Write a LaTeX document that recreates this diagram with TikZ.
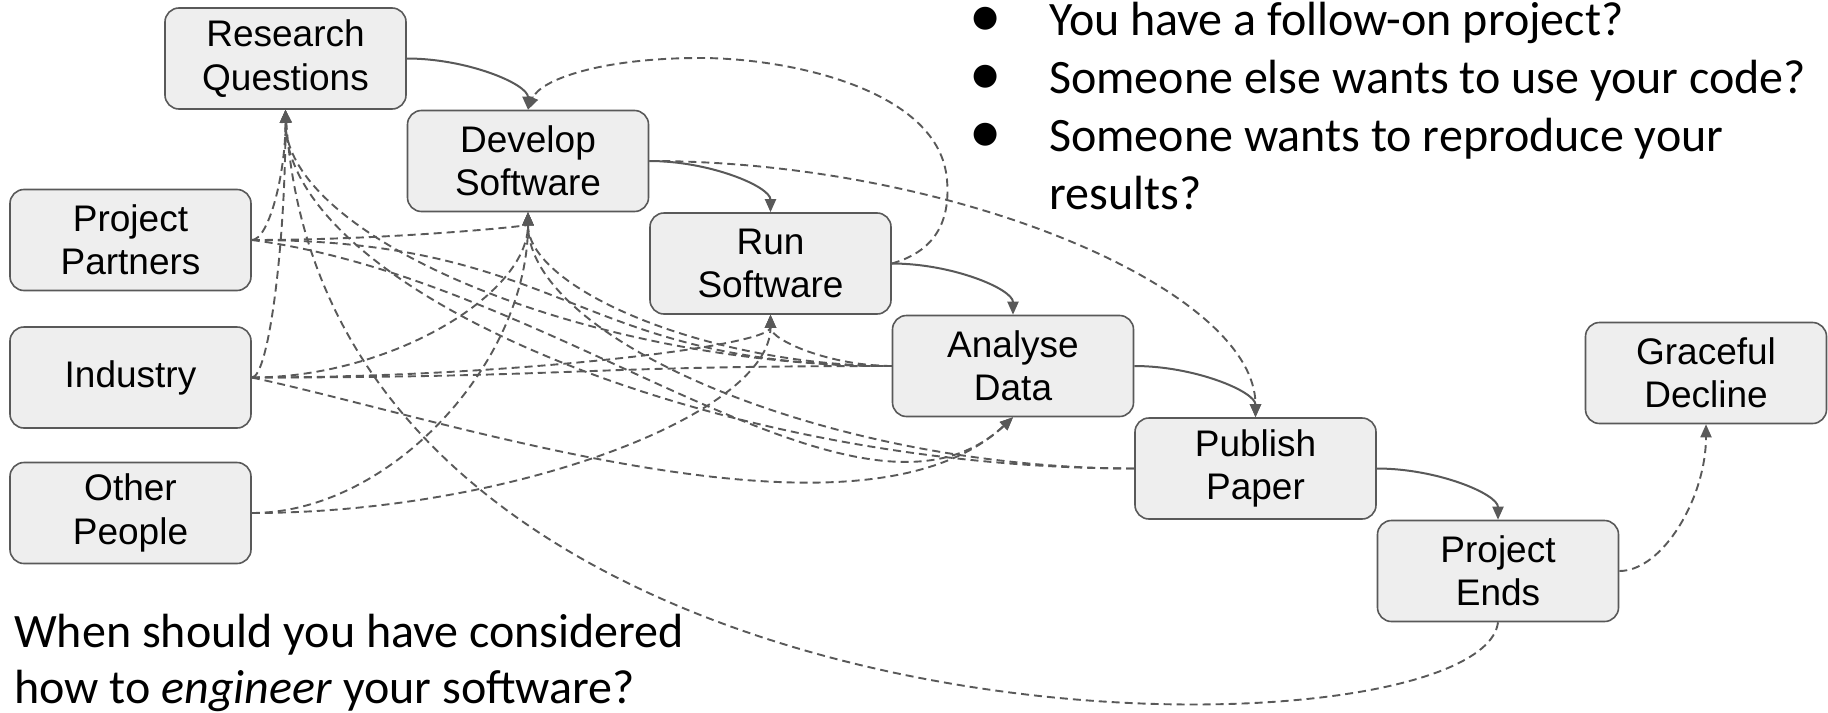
\documentclass[tikz,border=0pt]{standalone}
\usepackage{fontspec}
\setmainfont{Liberation Sans}
\newfontfamily\carlito{Carlito}
\newfontfamily\dejavu{DejaVu Sans}
\usetikzlibrary{arrows.meta,calc}
\definecolor{boxfill}{HTML}{EEEEEE}
\definecolor{edgecol}{HTML}{595959}
\begin{document}
\begin{tikzpicture}[x=1pt,y=-1pt,
  box/.style={draw=edgecol, line width=1.6pt, fill=boxfill, rounded corners=14pt,
    minimum width=241pt, minimum height=101pt, inner sep=0pt, align=center,
    font=\fontsize{37}{43.5}\selectfont},
  flow/.style={draw=edgecol, line width=2pt, -{Triangle[length=13pt,width=11pt]}},
  dep/.style={draw=edgecol, line width=1.9pt, dash pattern=on 8pt off 5pt,
    -{Triangle[length=13pt,width=11pt]}},
  link/.style={draw=edgecol, line width=1.9pt, dash pattern=on 8pt off 5pt},
  ctwo/.style={to path={let \p1=(\tikztostart), \p2=(\tikztotarget) in
    .. controls ({(\x1+\x2)/2},\y1) and (\x2,{(\y1+\y2)/2}) .. (\tikztotarget)}},
  cthree/.style={to path={let \p1=(\tikztostart), \p2=(\tikztotarget) in
    .. controls ({(\x1+\x2)/2},\y1) and ({(\x1+\x2)/2},\y2) .. (\tikztotarget)}},
  txt/.style={anchor=base west, inner sep=0pt, font=\carlito\fontsize{48}{57}\selectfont},
  dot/.style={inner sep=0pt, font=\dejavu\fontsize{30}{30}\selectfont}
]
\useasboundingbox (0,0) rectangle (1828,712);

% process nodes
\node[box] (rq)   at (285.5,58.5) {Research\\Questions};
\node[box] (dev)  at (528,161)    {Develop\\Software};
\node[box] (run)  at (770.5,263.5){Run\\Software};
\node[box] (ana)  at (1013,366)   {Analyse\\Data};
\node[box] (pub)  at (1255.5,468.5){Publish\\Paper};
\node[box] (pend) at (1498,571)   {Project\\Ends};
\node[box] (gd)   at (1706,373)   {Graceful\\Decline};
% stakeholders
\node[box] (pp)   at (130.5,240)  {Project\\Partners};
\node[box] (ind)  at (130.5,377.5){Industry};
\node[box] (op)   at (130.5,513)  {Other\\People};

% main flow
\draw[flow] (rq.east)  to[ctwo] (dev.north);
\draw[flow] (dev.east) to[ctwo] (run.north);
\draw[flow] (run.east) to[ctwo] (ana.north);
\draw[flow] (ana.east) to[ctwo] (pub.north);
\draw[flow] (pub.east) to[ctwo] (pend.north);

% dependencies into Research Questions
\draw[dep] (pp.east)  to[ctwo] (rq.south);
\draw[dep] (ind.east) to[ctwo] (rq.south);
\draw[dep] (ana.west) to[ctwo] (rq.south);
\draw[dep] (pub.west) to[ctwo] (rq.south);
\draw[dep] (pend.south) .. controls (1480,770) and (330,780) .. (rq.south);
% into Develop Software
\draw[dep] (pp.east)  to[ctwo] (dev.south);
\draw[dep] (ind.east) to[ctwo] (dev.south);
\draw[dep] (op.east)  to[ctwo] (dev.south);
\draw[dep] (ana.west) to[ctwo] (dev.south);
\draw[dep] (pub.west) to[ctwo] (dev.south);
\draw[dep] (run.east) .. controls (940,250) and (950,215) .. (947,180)
                      .. controls (940,90) and (790,58) .. (700,58)
                      .. controls (600,58) and (540,80) .. (dev.north);
% into Run Software
\draw[dep] (ind.east) to[ctwo] (run.south);
\draw[dep] (op.east)  to[ctwo] (run.south);
\draw[dep] (ana.west) to[ctwo] (run.south);
% into Analyse Data
\draw[dep] (ind.east) .. controls (450,420) and (860,560) .. (ana.south);
\draw[dep] (pp.east)  .. controls (560,280) and (860,560) .. (ana.south);
\draw[link] (pp.east)  to[cthree] (ana.west);
\draw[link] (ind.east) to[cthree] (ana.west);
% others
\draw[dep] (dev.east)  to[ctwo] (pub.north);
\draw[dep] (pend.east) to[ctwo] (gd.south);

% texts
\node[dot] (d1) at (986,19)  {●};
\node[dot] (d2) at (986,77)  {●};
\node[dot] (d3) at (986,135) {●};
\node[txt] (t1) at (1049,35)  {You have a follow-on project?};
\node[txt] (t2) at (1049,93)  {Someone else wants to use your code?};
\node[txt] (t3) at (1049,151) {Someone wants to reproduce your};
\node[txt] (t4) at (1049,209) {results?};
\node[txt] (q1) at (14,647) {When should you have considered};
\node[txt] (q2) at (14,703) {how to \textit{engineer} your software?};
\end{tikzpicture}
\end{document}
